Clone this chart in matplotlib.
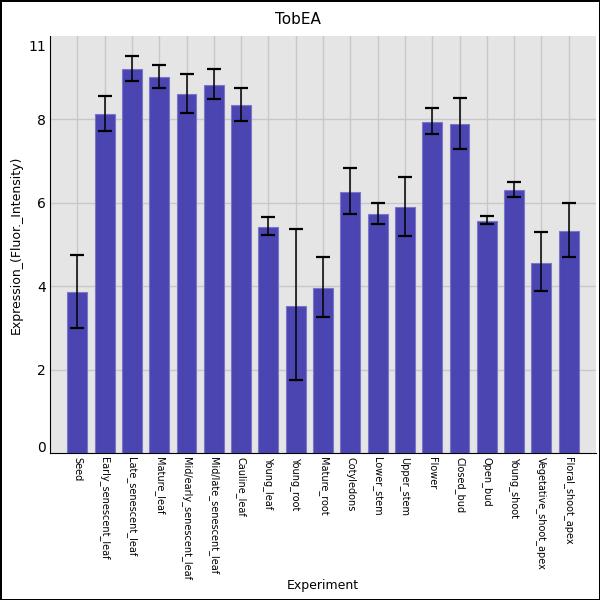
import matplotlib
matplotlib.use("Agg")
import matplotlib.pyplot as plt
import numpy as np

# bar values and error bar ends
experiments = ["Seed", "Early_senescent_leaf", "Late_senescent_leaf", "Mature_leaf",
               "Mid/early_senescent_leaf", "Mid/late_senescent_leaf", "Cauline_leaf",
               "Young_leaf", "Young_root", "Mature_root", "Cotyledons", "Lower_stem",
               "Upper_stem", "Flower", "Closed_bud", "Open_bud", "Young_shoot",
               "Vegetative_shoot_apex", "Floral_shoot_apex"]
values = [3.87, 8.13, 9.20, 9.01, 8.61, 8.82, 8.34, 5.42, 3.53, 3.96,
          6.26, 5.73, 5.90, 7.94, 7.89, 5.57, 6.31, 4.56, 5.33]
err_high = [4.75, 8.56, 9.51, 9.30, 9.09, 9.20, 8.75, 5.66, 5.38, 4.71,
            6.84, 6.00, 6.63, 8.28, 8.51, 5.69, 6.50, 5.29, 5.99]
err_low = [3.00, 7.72, 8.92, 8.76, 8.15, 8.49, 7.96, 5.22, 1.75, 3.25,
           5.73, 5.50, 5.20, 7.64, 7.29, 5.50, 6.13, 3.89, 4.71]
ytick_pos = [0.15, 2, 4, 6, 8, 9.78]
ytick_labels = ["0", "2", "4", "6", "8", "11"]

x = np.arange(len(experiments))
vals = np.array(values)
yerr = [vals - np.array(err_low), np.array(err_high) - vals]

fig = plt.figure(figsize=(6, 6), dpi=100, edgecolor="black", linewidth=2)
ax = fig.add_axes([50/600, 1 - 453/600, 546/600, 417/600])
ax.set_facecolor("#e5e5e5")

for gx in x:
    ax.axvline(gx, color="#c8c8c8", lw=1, zorder=0)
for gy in [2, 4, 6, 8]:
    ax.axhline(gy, color="#c8c8c8", lw=1, zorder=0)

ax.bar(x, vals, width=0.73, color="#4b45b2", edgecolor="#7b76c8", linewidth=0.8, zorder=2)
ax.errorbar(x, vals, yerr=yerr, fmt="none", ecolor="black", elinewidth=1.1,
            capsize=4.8, capthick=1.6, zorder=3)

ax.set_xlim(-1, 19)
ax.set_ylim(0, 10)
ax.set_xticks(x)
ax.set_xticklabels(experiments, rotation=-90, fontsize=7, va="top", ha="center")
ax.set_yticks(ytick_pos)
ax.set_yticklabels(ytick_labels, fontsize=10)
ax.tick_params(length=0, pad=3)
for s in ["top", "right"]:
    ax.spines[s].set_visible(False)
ax.spines["left"].set_color("black")
ax.spines["bottom"].set_color("black")

ax.set_ylabel("Expression_(Fluor._Intensity)", fontsize=9)
fig.text(323/600, 1 - 585/600, "Experiment", ha="center", va="center", fontsize=9)
fig.text(298/600, 1 - 20/600, "TobEA", ha="center", va="center", fontsize=11)

fig.savefig("out.png", dpi=100, edgecolor=fig.get_edgecolor())
